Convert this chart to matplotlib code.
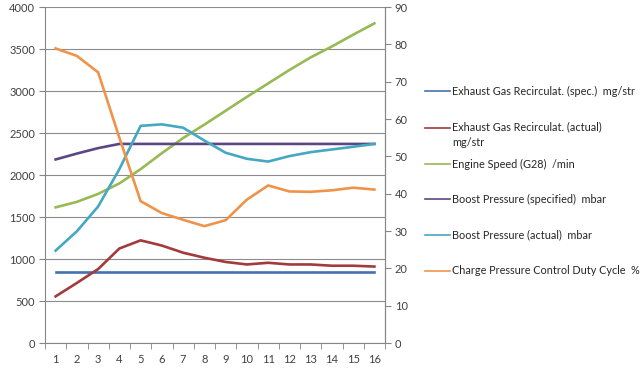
import matplotlib
matplotlib.use("Agg")
import matplotlib.pyplot as plt
from matplotlib.lines import Line2D
import numpy as np

plt.rcParams['font.family'] = ['Lato', 'DejaVu Sans']

categories = list(range(1, 17))

egr_spec = [840] * 16
egr_actual = [555, 715, 880, 1125, 1222, 1160, 1075, 1015, 965, 935, 955, 935, 935, 920, 920, 910]
engine_speed = [1615, 1680, 1775, 1900, 2070, 2260, 2440, 2600, 2765, 2930, 3090, 3250, 3400, 3530, 3670, 3805]
boost_spec = [2185, 2255, 2320, 2370, 2370, 2370, 2370, 2370, 2370, 2370, 2370, 2370, 2370, 2370, 2370, 2370]
boost_actual = [1100, 1330, 1625, 2070, 2585, 2603, 2563, 2410, 2265, 2193, 2160, 2225, 2272, 2304, 2336, 2370]
duty_cycle = [78.9, 76.9, 72.5, 55.0, 38.0, 34.8, 33.0, 31.3, 32.9, 38.4, 42.2, 40.6, 40.5, 40.9, 41.6, 41.1]

labels = [
    "Exhaust Gas Recirculat. (spec.)  mg/str",
    "Exhaust Gas Recirculat. (actual)\nmg/str",
    "Engine Speed (G28)  /min",
    "Boost Pressure (specified)  mbar",
    "Boost Pressure (actual)  mbar",
    "Charge Pressure Control Duty Cycle  %",
]
colors = ["#4472B0", "#A33A3C", "#98B954", "#5C4685", "#45A8C2", "#F0934A"]

fig = plt.figure(figsize=(6.4, 3.76), dpi=100)
ax = fig.add_axes([45/640, 33/376, 340/640, 336/376])
ax2 = ax.twinx()

lw = 1.9
ax.plot(categories, egr_spec, color=colors[0], lw=lw, zorder=3)
ax.plot(categories, egr_actual, color=colors[1], lw=lw, zorder=3)
ax.plot(categories, engine_speed, color=colors[2], lw=lw, zorder=3)
ax.plot(categories, boost_spec, color=colors[3], lw=lw, zorder=3)
ax.plot(categories, boost_actual, color=colors[4], lw=lw, zorder=3)
ax2.plot(categories, duty_cycle, color=colors[5], lw=lw, zorder=3)

ax.set_xlim(0.5, 16.5)
ax.set_ylim(0, 4000)
ax2.set_ylim(0, 90)
ax.set_yticks(np.arange(0, 4001, 500))
ax2.set_yticks(np.arange(0, 91, 10))
ax.set_xticks(categories)
ax.set_xticks(np.arange(0.5, 16.6, 1), minor=True)
ax.tick_params(axis='x', which='major', length=0, pad=8, labelsize=8, colors='#404040')
ax.tick_params(axis='x', which='minor', length=4, color='#868686', direction='out')
ax.tick_params(axis='y', length=4, color='#868686', labelsize=8, labelcolor='#404040', pad=3)
ax2.tick_params(axis='y', length=4, color='#868686', labelsize=8, labelcolor='#404040', pad=3)

ax.grid(axis='y', color='#8C8C8C', lw=0.8)
ax.set_axisbelow(True)
for a in (ax, ax2):
    for s in a.spines.values():
        s.set_color('#868686')
        s.set_linewidth(0.8)
    a.spines['top'].set_visible(False)
ax2.spines['left'].set_visible(False)
ax2.spines['bottom'].set_visible(False)

# legend (manual layout to mimic the original)
ys = [91, 128, 164, 199, 235, 271]
for lab, c, y in zip(labels, colors, ys):
    yf = 1 - y / 376
    fig.add_artist(Line2D([425/640, 450/640], [yf, yf], color=c, lw=1.2))
    if '\n' in lab:
        fig.text(452/640, yf + 7/376, lab, fontsize=7.8, color='#262626',
                 va='top', ha='left', linespacing=1.55)
    else:
        fig.text(452/640, yf, lab, fontsize=7.8, color='#262626',
                 va='center', ha='left')

fig.savefig("out.png", dpi=100, facecolor='white')
